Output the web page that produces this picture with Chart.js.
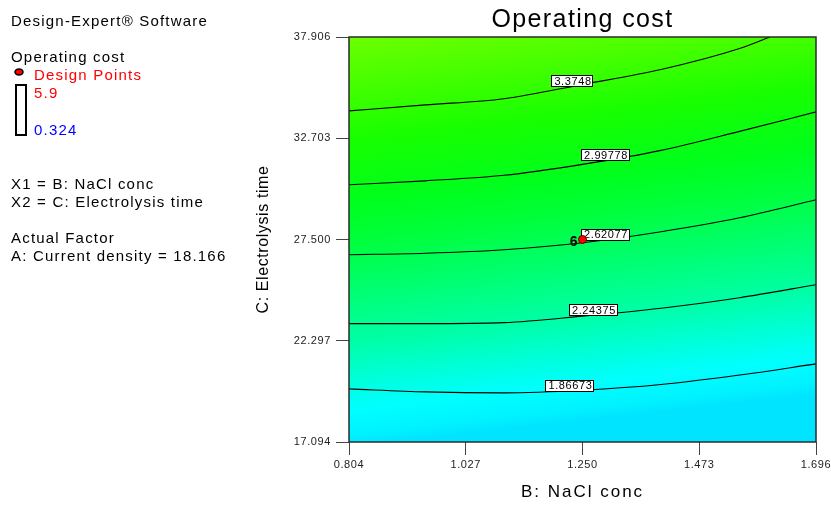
<!DOCTYPE html>
<html>
<head>
<meta charset="utf-8">
<script src="https://cdn.jsdelivr.net/npm/chart.js@4.4.1/dist/chart.umd.min.js"></script>
<style>
  html, body { margin: 0; padding: 0; background: #ffffff; }
  #wrap { position: relative; width: 831px; height: 529px; }
</style>
</head>
<body>
<div id="wrap"><canvas id="c"></canvas></div>
<script>
// Axis ticks (B: NaCl conc, C: Electrolysis time)
const xTicks = [0.804, 1.027, 1.250, 1.473, 1.696];
const xTickLabels = ['0.804', '1.027', '1.250', '1.473', '1.696'];
const yTicks = [17.094, 22.297, 27.500, 32.703, 37.906];
const yTickLabels = ['17.094', '22.297', '27.500', '32.703', '37.906'];

// Contour levels of Operating cost and their traced paths
const contourLevels = ['3.3748', '2.99778', '2.62077', '2.24375', '1.86673'];
const contour1X = [0.804, 0.95, 1.10, 1.25, 1.40, 1.55, 1.608];
const contour1Y = [34.108, 34.416, 34.734, 35.468, 36.238, 37.316, 37.906];
const contour2X = [0.804, 0.95, 1.10, 1.25, 1.40, 1.55, 1.696];
const contour2Y = [30.310, 30.515, 30.798, 31.362, 32.081, 33.056, 34.057];
const contour3X = [0.804, 0.95, 1.10, 1.25, 1.40, 1.55, 1.696];
const contour3Y = [26.717, 26.794, 26.974, 27.333, 27.898, 28.616, 29.540];
const contour4X = [0.804, 0.95, 1.10, 1.25, 1.40, 1.55, 1.696];
const contour4Y = [23.176, 23.176, 23.227, 23.561, 23.971, 24.510, 25.177];
const contour5X = [0.804, 0.95, 1.10, 1.25, 1.40, 1.55, 1.696];
const contour5Y = [19.824, 19.670, 19.619, 19.753, 20.045, 20.533, 21.108];
// where each level's tag sits along its line
const labelX = [1.230, 1.293, 1.293, 1.270, 1.225];

// Design point
const designX = [1.250];
const designY = [27.500];
const designRuns = ['6'];

const contourX = [contour1X, contour2X, contour3X, contour4X, contour5X];
const contourY = [contour1Y, contour2Y, contour3Y, contour4Y, contour5Y];

const FONT = 'Arial, "Liberation Sans", sans-serif';

function toPoints(xs, ys) {
  return xs.map((x, i) => ({ x: x, y: ys[i] }));
}

function valueAt(xs, ys, x) {
  for (let i = 0; i < xs.length - 1; i++) {
    if (x >= xs[i] && x <= xs[i + 1]) {
      const t = (x - xs[i]) / (xs[i + 1] - xs[i]);
      return ys[i] + t * (ys[i + 1] - ys[i]);
    }
  }
  return ys[ys.length - 1];
}

function text(ctx, str, x, y, size, color, opts) {
  opts = opts || {};
  ctx.save();
  ctx.font = (opts.weight || 'normal') + ' ' + size + 'px ' + FONT;
  ctx.fillStyle = color;
  ctx.textAlign = opts.align || 'left';
  ctx.textBaseline = 'alphabetic';
  ctx.letterSpacing = (opts.spacing != null ? opts.spacing : 1.2) + 'px';
  if (opts.rotate) {
    ctx.translate(x, y);
    ctx.rotate(opts.rotate);
    ctx.fillText(str, 0, 0);
  } else {
    ctx.fillText(str, x, y);
  }
  ctx.restore();
}

const datasets = [{
  label: 'Design Points',
  data: toPoints(designX, designY),
  showLine: false,
  pointRadius: 4,
  pointBackgroundColor: '#ff0000',
  pointBorderColor: '#5a0000',
  pointBorderWidth: 1
}];
contourLevels.forEach((lvl, i) => {
  datasets.push({
    label: lvl,
    data: toPoints(contourX[i], contourY[i]),
    borderColor: '#000000',
    borderWidth: 1.1,
    pointRadius: 0,
    cubicInterpolationMode: 'monotone',
    fill: false,
    levelIndex: i
  });
});

const surfacePlugin = {
  id: 'surface',
  beforeDraw(chart) {
    chart.ctx.letterSpacing = '0.6px';
  },
  beforeDatasetsDraw(chart) {
    const { ctx, chartArea: a } = chart;
    const g = ctx.createLinearGradient(a.left, a.top, a.left + 45, a.bottom);
    g.addColorStop(0.00, '#6cff00');
    g.addColorStop(0.12, '#45ff00');
    g.addColorStop(0.25, '#18ff00');
    g.addColorStop(0.40, '#00ff1c');
    g.addColorStop(0.50, '#00ff3c');
    g.addColorStop(0.62, '#00ff70');
    g.addColorStop(0.75, '#00ffa8');
    g.addColorStop(0.85, '#00ffe0');
    g.addColorStop(0.91, '#00ffff');
    g.addColorStop(0.97, '#00f2ff');
    g.addColorStop(1.00, '#00e4ff');
    ctx.save();
    ctx.fillStyle = g;
    ctx.fillRect(a.left, a.top, a.right - a.left, a.bottom - a.top);
    ctx.restore();
  },
  afterDatasetDraw(chart, args) {
    const ds = chart.data.datasets[args.index];
    const ctx = chart.ctx;
    const xs = chart.scales.x, ys = chart.scales.y;
    if (ds.levelIndex != null) {
      const i = ds.levelIndex;
      const lx = labelX[i];
      const px = xs.getPixelForValue(lx);
      const py = ys.getPixelForValue(valueAt(contourX[i], contourY[i], lx)) - 5.5;
      ctx.save();
      ctx.font = '11px ' + FONT;
      ctx.letterSpacing = '0.6px';
      const w = ctx.measureText(contourLevels[i]).width + 4;
      const h = 11;
      ctx.fillStyle = '#ffffff';
      ctx.fillRect(Math.round(px - w / 2) + 0.5, Math.round(py - h / 2) + 0.5, Math.round(w), h);
      ctx.strokeStyle = '#000000';
      ctx.lineWidth = 1;
      ctx.strokeRect(Math.round(px - w / 2) + 0.5, Math.round(py - h / 2) + 0.5, Math.round(w), h);
      ctx.fillStyle = '#000000';
      ctx.textAlign = 'center';
      ctx.textBaseline = 'middle';
      ctx.fillText(contourLevels[i], px + 1, py + 1);
      ctx.restore();
    } else {
      designX.forEach((x, k) => {
        const px = xs.getPixelForValue(x);
        const py = ys.getPixelForValue(designY[k]);
        text(ctx, designRuns[k], px - 5, py + 6, 14, '#000000', { align: 'right', weight: 'bold', spacing: 0 });
      });
    }
  },
  afterDraw(chart) {
    const { ctx, chartArea: a } = chart;
    ctx.save();
    ctx.strokeStyle = '#2b2b2b';
    ctx.lineWidth = 1.5;
    ctx.strokeRect(a.left, a.top, a.right - a.left, a.bottom - a.top);
    ctx.restore();

    // Title and axis titles
    const cx = (a.left + a.right) / 2;
    text(ctx, 'Operating cost', cx, 27, 25, '#000000', { align: 'center', spacing: 1.4 });
    text(ctx, 'B: NaCl conc', cx, 497, 17, '#000000', { align: 'center', spacing: 2.0 });
    text(ctx, 'C: Electrolysis time', 268, (a.top + a.bottom) / 2, 16, '#000000', { align: 'center', rotate: -Math.PI / 2, spacing: 0.6 });

    // Side panel
    text(ctx, 'Design-Expert® Software', 11, 26, 15, '#000000');
    text(ctx, 'Operating cost', 11, 62, 15, '#000000');
    ctx.save();
    ctx.beginPath();
    ctx.ellipse(19, 72, 4, 3, 0, 0, Math.PI * 2);
    ctx.fillStyle = '#ff0000';
    ctx.fill();
    ctx.lineWidth = 1.5;
    ctx.strokeStyle = '#000000';
    ctx.stroke();
    ctx.lineWidth = 2;
    ctx.strokeRect(16, 85, 10, 50);
    ctx.restore();
    text(ctx, 'Design Points', 34, 80, 15, '#ff0000');
    text(ctx, '5.9', 34, 98, 15, '#ff0000');
    text(ctx, '0.324', 34, 135, 15, '#0000ff');
    text(ctx, 'X1 = B: NaCl conc', 11, 189, 15, '#000000');
    text(ctx, 'X2 = C: Electrolysis time', 11, 207, 15, '#000000');
    text(ctx, 'Actual Factor', 11, 243, 15, '#000000');
    text(ctx, 'A: Current density = 18.166', 11, 261, 15, '#000000');
  }
};

new Chart(document.getElementById('c'), {
  type: 'line',
  data: { datasets: datasets },
  options: {
    responsive: true,
    maintainAspectRatio: false,
    animation: false,
    devicePixelRatio: 1,
    layout: { padding: { left: 0, right: 15, top: 37, bottom: 0 } },
    plugins: { legend: { display: false }, tooltip: { enabled: false }, title: { display: false } },
    scales: {
      x: {
        type: 'linear',
        min: 0.804,
        max: 1.696,
        afterBuildTicks: s => { s.ticks = xTicks.map(v => ({ value: v })); },
        afterFit: s => { s.height = 87; s.paddingLeft = 0; s.paddingRight = 0; },
        ticks: {
          autoSkip: false,
          maxRotation: 0,
          padding: 3,
          color: '#222222',
          font: { family: FONT, size: 11 },
          callback: (v, i) => xTickLabels[i]
        },
        grid: { drawOnChartArea: false, drawTicks: true, tickLength: 13, color: '#444444', lineWidth: 1 },
        border: { display: false }
      },
      y: {
        type: 'linear',
        min: 17.094,
        max: 37.906,
        afterBuildTicks: s => { s.ticks = yTicks.map(v => ({ value: v })); },
        afterFit: s => { s.width = 349; s.paddingTop = 0; s.paddingBottom = 0; },
        ticks: {
          autoSkip: false,
          padding: 5,
          color: '#222222',
          font: { family: FONT, size: 11 },
          callback: (v, i) => yTickLabels[i]
        },
        grid: { drawOnChartArea: false, drawTicks: true, tickLength: 13, color: '#444444', lineWidth: 1 },
        border: { display: false }
      }
    }
  },
  plugins: [surfacePlugin]
});
</script>
</body>
</html>
